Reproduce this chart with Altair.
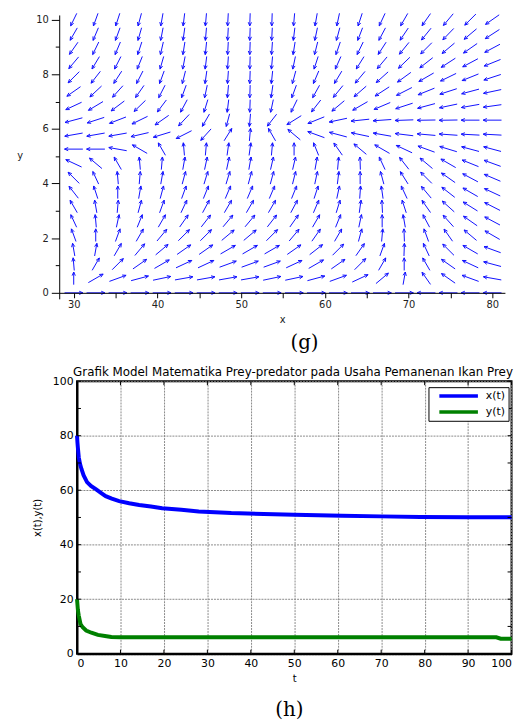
import altair as alt
import numpy as np
import pandas as pd

# ---------------- panel (g): direction field ----------------
X_GRID = [30.0, 32.63, 35.26, 37.89, 40.53, 43.16, 45.79, 48.42, 51.05, 53.68,
          56.32, 58.95, 61.58, 64.21, 66.84, 69.47, 72.11, 74.74, 77.37, 80.0]
Y_GRID = [0.0, 0.53, 1.05, 1.58, 2.11, 2.63, 3.16, 3.68, 4.21, 4.74,
          5.26, 5.79, 6.32, 6.84, 7.37, 7.89, 8.42, 8.95, 9.47, 10.0]
# arrow direction (degrees, counter-clockwise from +x), one row per Y_GRID value
ANGLE_ROWS = [
    [0, 0, 0, 0, 0, 0, 0, 0, 0, 0, 0, 0, 0, 0, 0, 0, 180, 180, 180, 180],
    [90, 30, 20, 15, 12, 10, 10, 10, 10, 12, 12, 15, 20, 25, 40, 80, 125, 145, 160, 170],
    [95, 60, 45, 35, 30, 25, 25, 20, 20, 20, 25, 30, 35, 45, 60, 90, 120, 145, 155, 165],
    [100, 80, 60, 50, 40, 35, 35, 30, 30, 30, 35, 38, 45, 55, 70, 88, 115, 135, 150, 160],
    [110, 90, 70, 60, 50, 45, 45, 40, 40, 45, 50, 55, 60, 75, 85, 92, 110, 125, 140, 150],
    [115, 95, 78, 68, 60, 55, 52, 50, 50, 52, 55, 60, 68, 78, 90, 100, 118, 132, 145, 152],
    [120, 100, 85, 75, 70, 65, 62, 60, 60, 60, 62, 67, 73, 82, 93, 108, 125, 138, 148, 153],
    [128, 108, 90, 80, 75, 70, 68, 67, 67, 67, 68, 72, 78, 86, 98, 115, 130, 142, 150, 155],
    [135, 115, 95, 85, 80, 75, 73, 73, 75, 75, 76, 78, 83, 90, 105, 122, 135, 145, 152, 157],
    [155, 140, 120, 95, 85, 80, 78, 78, 80, 77, 77, 80, 85, 92, 115, 128, 140, 150, 158, 160],
    [180, 180, 170, 150, 120, 95, 85, 82, 82, 85, 90, 112, 125, 140, 150, 155, 160, 163, 165, 165],
    [190, 190, 190, 193, 197, 207, 228, 58, 85, 120, 140, 160, 165, 168, 170, 173, 175, 176, 177, 177],
    [195, 198, 201, 206, 215, 227, 240, 255, 265, 232, 212, 202, 192, 186, 184, 182, 181, 181, 180, 180],
    [205, 211, 217, 224, 233, 242, 253, 263, 268, 258, 244, 232, 220, 210, 203, 198, 195, 192, 190, 188],
    [215, 223, 228, 235, 243, 250, 258, 265, 268, 262, 250, 241, 231, 221, 213, 207, 202, 198, 195, 192],
    [225, 232, 237, 243, 250, 256, 262, 266, 268, 264, 255, 247, 239, 230, 222, 216, 210, 206, 202, 198],
    [230, 239, 243, 248, 254, 259, 263, 266, 268, 265, 258, 252, 246, 238, 230, 224, 218, 213, 208, 202],
    [235, 244, 247, 252, 257, 261, 264, 267, 268, 266, 261, 256, 251, 244, 237, 231, 225, 220, 215, 208],
    [240, 247, 250, 254, 259, 262, 265, 267, 268, 267, 263, 258, 255, 249, 242, 236, 231, 226, 220, 213],
    [244, 250, 252, 255, 260, 263, 265, 267, 268, 268, 265, 260, 258, 252, 245, 240, 235, 230, 225, 215],
]
G_X_TICKS = [30, 35, 40, 45, 50, 55, 60, 65, 70, 75, 80]
G_Y_TICKS = [0, 1, 2, 3, 4, 5, 6, 7, 8, 9, 10]

# ---------------- panel (h): time series ----------------
T_X = [0, 0.1, 0.2, 0.4, 0.7, 1.0, 1.5, 2.3, 3.2, 4.4, 5.5, 6.6, 8, 9.7, 12, 14.3, 17,
       19.6, 24, 28, 35.5, 43, 50, 61, 70, 79, 90, 100]
X_T = [80, 77.5, 75.5, 72.1, 69.6, 67.9, 65.5, 63.0, 61.6, 60.3, 59.0, 57.8, 56.9, 56.0,
       55.2, 54.6, 54.0, 53.4, 52.8, 52.2, 51.6, 51.3, 51.0, 50.6, 50.4, 50.2, 50.1, 50.1]
T_Y = [0, 0.2, 0.4, 0.8, 1.3, 2.1, 3.3, 4.8, 6.8, 7.9, 10, 20, 40, 60, 80, 96.5, 97.5, 100]
Y_T = [20, 16, 14, 10.9, 9.7, 8.5, 7.7, 6.9, 6.4, 6.1, 6.0, 6.0, 6.0, 6.0, 6.0, 6.0, 5.5, 5.5]
H_TICKS = [0, 10, 20, 30, 40, 50, 60, 70, 80, 90, 100]
SERIES = ["x(t)", "y(t)"]
SERIES_COLORS = ["#0000ff", "#008000"]
TITLE_H = "Grafik Model Matematika Prey-predator pada Usaha Pemanenan Ikan Prey"

# ---------------- geometry ----------------
GW, GH = 432.7, 281.0
G_XDOM, G_XRANGE = [28.27, 81.5], [-18.0, 432.7]
G_YDOM, G_YRANGE = [-0.22, 10.17], [287.08, 0.0]
PX_X = (G_XRANGE[1] - G_XRANGE[0]) / (G_XDOM[1] - G_XDOM[0])
PX_Y = (G_YRANGE[0] - G_YRANGE[1]) / (G_YDOM[1] - G_YDOM[0])
HW, HH = 439.4, 275.5

# arrow segments (shaft + two head barbs), sized in screen pixels
segs = []
for j, yv in enumerate(Y_GRID):
    for i, xv in enumerate(X_GRID):
        a = np.deg2rad(ANGLE_ROWS[j][i])
        c, s = np.cos(a), np.sin(a)
        L = np.hypot(18.5 * c, 12.8 * s)
        tx, ty = xv - 0.5 * L * c / PX_X, yv - 0.5 * L * s / PX_Y
        hx, hy = xv + 0.5 * L * c / PX_X, yv + 0.5 * L * s / PX_Y
        segs.append((tx, ty, hx, hy))
        for d in (0.42, -0.42):
            b = a + np.pi + d
            segs.append((hx, hy, hx + 4.0 * np.cos(b) / PX_X, hy + 4.0 * np.sin(b) / PX_Y))
seg_df = pd.DataFrame(segs, columns=["x", "y", "x2", "y2"])

xs_g = alt.Scale(domain=G_XDOM, range=G_XRANGE, nice=False, zero=False)
ys_g = alt.Scale(domain=G_YDOM, range=G_YRANGE, nice=False, zero=False)

arrows = alt.Chart(seg_df).mark_rule(color="#1010ff", strokeWidth=1).encode(
    x=alt.X("x:Q", scale=xs_g, axis=alt.Axis(
        values=G_X_TICKS, labelExpr="datum.value % 10 == 0 ? datum.label : ''",
        title="x", titleFont="DejaVu Sans", titleFontSize=10, titleFontWeight="normal",
        titleColor="#222", titleY=27, titleBaseline="middle",
        labelFont="DejaVu Sans", labelFontSize=10, labelColor="#222", labelPadding=2,
        tickSize=5, tickColor="black", domainColor="black", grid=False, zindex=1)),
    y=alt.Y("y:Q", scale=ys_g, axis=alt.Axis(
        values=G_Y_TICKS, labelExpr="datum.value % 2 == 0 ? datum.label : ''",
        title="y", titleAngle=0, titleX=-40, titleY=142, titleAlign="center",
        titleBaseline="middle", titleFont="DejaVu Sans", titleFontSize=10,
        titleFontWeight="normal", titleColor="#222",
        labelFont="DejaVu Sans", labelFontSize=10, labelColor="#222", labelPadding=3,
        tickSize={"condition": {"test": "datum.value % 2 == 0", "value": 8}, "value": 4},
        tickColor="black", domainColor="black", grid=False, offset=18, zindex=1)),
    x2="x2:Q", y2="y2:Q",
)
g_label = alt.Chart(pd.DataFrame({"lab": ["(g)"]})).mark_text(
    font="DejaVu Serif", fontSize=20, color="black", baseline="middle", align="center"
).encode(text="lab:N", x=alt.value(230), y=alt.value(331.5))

panel_g = alt.layer(arrows, g_label).properties(
    width=GW, height=GH, view=alt.ViewBackground(stroke="transparent"))

# ---------------- panel (h) ----------------
ts_df = pd.concat([
    pd.DataFrame({"t": T_X, "v": X_T, "s": SERIES[0]}),
    pd.DataFrame({"t": T_Y, "v": Y_T, "s": SERIES[1]}),
])
xs_h = alt.Scale(domain=[0, 100], nice=False, zero=False)
ys_h = alt.Scale(domain=[0, 100], nice=False, zero=False)

lines = alt.Chart(ts_df).mark_line(strokeWidth=4).encode(
    x=alt.X("t:Q", scale=xs_h, axis=alt.Axis(
        values=H_TICKS, grid=True, gridColor="#8a8a8a", gridDash=[2, 1], gridWidth=1,
        ticks=False, domainColor="black", domainWidth=2,
        labelFont="DejaVu Sans", labelFontSize=11, labelColor="black", labelPadding=4,
        title="t", titleFont="DejaVu Sans", titleFontSize=10, titleFontWeight="normal",
        titleColor="black", titleY=25, titleBaseline="middle")),
    y=alt.Y("v:Q", scale=ys_h, axis=alt.Axis(
        values=H_TICKS, grid=True, gridColor="#8a8a8a", gridDash=[2, 1], gridWidth=1,
        ticks=False, domainColor="black", domainWidth=2,
        labelFont="DejaVu Sans", labelFontSize=11, labelColor="black", labelPadding=4,
        title="x(t),y(t)", titleFont="DejaVu Sans", titleFontSize=10,
        titleFontWeight="normal", titleColor="black", titleX=-40.3, titleY=HH / 2,
        titleAlign="center", titleBaseline="middle")),
    color=alt.Color("s:N", scale=alt.Scale(domain=SERIES, range=SERIES_COLORS),
                    legend=alt.Legend(
                        title=None, orient="none", legendX=355.4, legendY=6,
                        symbolType="stroke", symbolSize=1521, symbolStrokeWidth=3.5,
                        symbolOffset=6, labelOffset=6, padding=3, rowPadding=4,
                        clipHeight=12,
                        labelFont="DejaVu Sans", labelFontSize=11, labelColor="black",
                        strokeColor="black", fillColor="white")),
)

# inside ticks on all four sides
tk = []
lx, ly = 4 / (HW / 100), 4 / (HH / 100)
for v in H_TICKS:
    tk += [(v, 0, v, ly), (v, 100, v, 100 - ly), (0, v, lx, v), (100, v, 100 - lx, v)]
tick_df = pd.DataFrame(tk, columns=["a", "b", "a2", "b2"])
ticks = alt.Chart(tick_df).mark_rule(color="black", strokeWidth=1).encode(
    x=alt.X("a:Q", scale=xs_h), y=alt.Y("b:Q", scale=ys_h), x2="a2:Q", y2="b2:Q")

h_title = alt.Chart(pd.DataFrame({"lab": [TITLE_H]})).mark_text(
    font="DejaVu Sans", fontSize=12, color="black", baseline="middle", align="center"
).encode(text="lab:N", x=alt.value(218.4), y=alt.value(-9))
h_label = alt.Chart(pd.DataFrame({"lab": ["(h)"]})).mark_text(
    font="DejaVu Serif", fontSize=20, color="black", baseline="middle", align="center"
).encode(text="lab:N", x=alt.value(214.7), y=alt.value(333))

panel_h = alt.layer(lines, ticks, h_title, h_label).properties(
    width=HW, height=HH, view=alt.ViewBackground(stroke="black", strokeWidth=2))

chart = alt.vconcat(panel_g, panel_h, spacing=89.4, bounds="flush").resolve_legend(
    color="independent").properties(
    padding={"left": 7.8, "top": 0, "right": 0, "bottom": 0})

chart.save("out.html", embed_options={"renderer": "svg", "actions": False})
